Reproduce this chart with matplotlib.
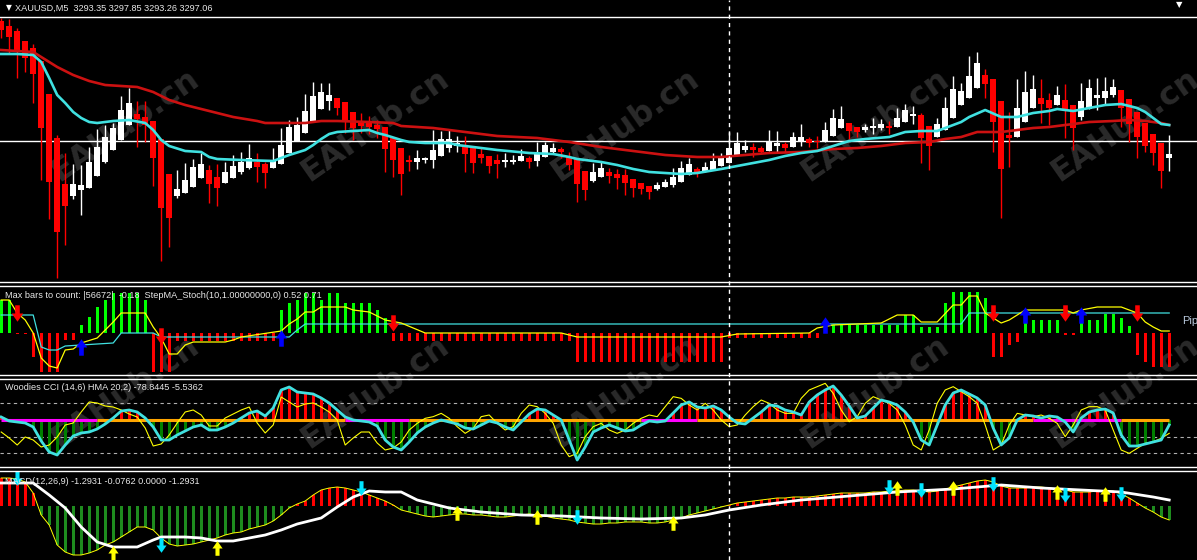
import matplotlib
matplotlib.use('Agg')
import matplotlib.pyplot as plt
from matplotlib.lines import Line2D
from matplotlib.path import Path

W, H = 1197, 560

# ---------------- main window: XAUUSD M5 ----------------
opens = [3312.9, 3312.4, 3311.9, 3310.9, 3310.2, 3308.9, 3305.6, 3301.2, 3296.6, 3295.4,
         3296.0, 3296.2, 3297.4, 3298.8, 3300.0, 3301.0, 3302.5, 3303.6, 3303.3, 3302.9,
         3301.1, 3297.6, 3295.4, 3295.7, 3296.3, 3297.2, 3298.0, 3297.3, 3296.7, 3297.2,
         3297.8, 3298.2, 3298.8, 3298.6, 3298.2, 3298.6, 3299.7, 3300.9, 3301.7, 3302.8,
         3304.1, 3304.9, 3305.2, 3304.8, 3303.8, 3302.9, 3302.7, 3302.5, 3302.3, 3301.2,
         3300.2, 3299.0, 3298.8, 3299.0, 3299.0, 3299.4, 3300.2, 3300.4, 3300.4, 3300.2,
         3299.6, 3299.4, 3299.0, 3298.8, 3298.8, 3298.9, 3299.2, 3298.9, 3299.3, 3299.8,
         3300.1, 3299.3, 3299.1, 3297.9, 3296.9, 3297.3, 3297.8, 3297.6, 3297.5, 3297.1,
         3296.7, 3296.4, 3296.1, 3296.3, 3296.5, 3296.8, 3297.5, 3298.1, 3297.8, 3298.0,
         3298.4, 3298.7, 3299.5, 3300.0, 3300.3, 3300.2, 3299.9, 3300.4, 3300.6, 3300.3,
         3300.8, 3301.1, 3300.9, 3300.8, 3301.4, 3302.2, 3302.7, 3302.3, 3302.0, 3302.2,
         3302.2, 3302.4, 3302.3, 3302.8, 3303.4, 3303.5, 3302.4, 3301.3, 3302.0, 3303.2,
         3304.5, 3305.2, 3306.2, 3307.5, 3307.1, 3304.9, 3301.5, 3301.3, 3302.8, 3304.2,
         3305.2, 3305.0, 3304.5, 3305.0, 3304.5, 3303.3, 3304.1, 3305.2, 3305.2, 3305.5,
         3306.0, 3305.1, 3303.8, 3302.7, 3301.6, 3300.7, 3299.2]
highs = [3313.2, 3313.1, 3312.2, 3310.9, 3310.6, 3308.9, 3305.6, 3301.5, 3299.7, 3298.6,
         3298.5, 3300.3, 3302.1, 3302.5, 3302.7, 3305.4, 3306.2, 3304.9, 3304.9, 3302.9,
         3301.1, 3297.6, 3298.0, 3298.7, 3299.1, 3299.7, 3298.5, 3298.6, 3298.8, 3299.5,
         3299.8, 3300.6, 3299.7, 3298.8, 3300.2, 3302.2, 3303.0, 3303.3, 3305.6, 3306.8,
         3306.7, 3306.7, 3305.2, 3304.8, 3303.8, 3303.7, 3303.4, 3303.0, 3302.3, 3301.2,
         3300.2, 3299.5, 3300.0, 3299.3, 3302.0, 3301.9, 3302.0, 3301.4, 3301.4, 3300.2,
         3300.2, 3299.4, 3299.6, 3299.7, 3299.5, 3300.1, 3299.4, 3300.8, 3300.8, 3300.7,
         3300.3, 3299.8, 3299.1, 3297.9, 3298.7, 3298.8, 3298.2, 3298.1, 3298.1, 3297.1,
         3296.7, 3296.4, 3296.8, 3297.1, 3298.2, 3298.9, 3299.2, 3298.3, 3298.8, 3299.7,
         3299.7, 3301.8, 3301.8, 3301.0, 3300.7, 3300.4, 3302.0, 3301.9, 3300.8, 3301.8,
         3302.6, 3301.3, 3301.4, 3302.8, 3304.1, 3304.4, 3302.7, 3302.3, 3302.6, 3303.2,
         3303.1, 3302.9, 3304.2, 3304.6, 3304.4, 3303.7, 3302.4, 3303.2, 3305.3, 3307.4,
         3306.7, 3309.4, 3309.8, 3308.1, 3307.1, 3304.9, 3303.8, 3307.1, 3307.9, 3307.5,
         3307.1, 3305.7, 3306.4, 3306.6, 3304.5, 3306.7, 3307.1, 3307.2, 3307.3, 3307.1,
         3306.0, 3305.1, 3303.8, 3302.7, 3301.6, 3300.7, 3301.5]
lows = [3311.2, 3309.7, 3307.2, 3307.8, 3304.7, 3297.0, 3293.1, 3287.2, 3290.5, 3295.1,
        3293.5, 3296.2, 3297.4, 3298.7, 3300.0, 3301.0, 3302.5, 3300.3, 3300.8, 3296.4,
        3288.9, 3290.3, 3295.2, 3295.7, 3296.3, 3297.2, 3294.7, 3294.4, 3296.7, 3297.2,
        3297.6, 3298.1, 3296.8, 3296.2, 3298.2, 3298.6, 3299.7, 3300.9, 3301.7, 3302.8,
        3304.1, 3304.0, 3303.5, 3301.7, 3301.0, 3301.7, 3301.6, 3301.2, 3297.8, 3297.3,
        3295.5, 3297.9, 3298.1, 3298.7, 3298.2, 3299.4, 3299.8, 3299.8, 3297.8, 3297.7,
        3298.7, 3297.7, 3297.2, 3298.3, 3298.6, 3298.9, 3298.2, 3298.4, 3299.3, 3299.7,
        3299.2, 3298.0, 3294.8, 3295.0, 3296.8, 3297.3, 3296.7, 3296.1, 3295.5, 3295.3,
        3295.6, 3295.1, 3296.0, 3296.3, 3296.3, 3296.8, 3297.5, 3297.3, 3297.8, 3298.0,
        3298.4, 3298.7, 3299.5, 3299.8, 3299.3, 3299.7, 3299.9, 3299.8, 3299.8, 3300.3,
        3300.4, 3300.3, 3300.2, 3300.8, 3301.4, 3302.2, 3301.1, 3301.3, 3301.8, 3301.6,
        3302.0, 3301.6, 3302.3, 3302.8, 3302.6, 3298.7, 3298.0, 3301.3, 3302.0, 3303.2,
        3304.5, 3305.2, 3306.2, 3305.2, 3299.8, 3293.2, 3298.3, 3301.3, 3302.8, 3304.2,
        3302.7, 3302.5, 3304.5, 3301.2, 3300.0, 3303.0, 3304.1, 3304.0, 3304.5, 3305.3,
        3302.3, 3300.8, 3299.2, 3299.8, 3298.5, 3296.2, 3297.9]
closes = [3312.0, 3311.3, 3309.8, 3309.2, 3307.6, 3302.2, 3296.8, 3291.8, 3294.4, 3296.6,
          3296.5, 3298.8, 3300.3, 3301.3, 3302.2, 3304.0, 3304.7, 3303.1, 3302.5, 3299.2,
          3294.2, 3293.2, 3296.1, 3297.0, 3298.3, 3298.6, 3296.6, 3296.2, 3297.8, 3298.4,
          3298.8, 3299.2, 3298.3, 3297.7, 3298.9, 3300.5, 3302.3, 3302.5, 3303.9, 3305.4,
          3305.8, 3305.5, 3304.2, 3302.9, 3302.2, 3302.4, 3302.3, 3302.1, 3300.1, 3299.0,
          3297.6, 3298.8, 3299.2, 3299.2, 3300.0, 3301.1, 3301.1, 3300.7, 3299.6, 3298.7,
          3299.2, 3298.4, 3298.6, 3299.0, 3299.0, 3299.4, 3298.8, 3299.6, 3300.5, 3300.2,
          3299.8, 3298.5, 3296.6, 3296.0, 3297.8, 3298.2, 3297.4, 3297.2, 3296.7, 3296.2,
          3296.1, 3295.8, 3296.5, 3296.8, 3297.3, 3298.2, 3298.6, 3297.8, 3298.3, 3298.9,
          3299.2, 3300.2, 3300.7, 3300.4, 3300.0, 3299.8, 3300.8, 3300.7, 3300.2, 3301.3,
          3301.3, 3300.7, 3300.85, 3302.0, 3303.2, 3303.1, 3301.9, 3301.8, 3302.3, 3302.4,
          3302.6, 3302.2, 3303.2, 3304.0, 3303.6, 3301.2, 3300.4, 3302.6, 3304.2, 3306.1,
          3305.9, 3307.4, 3308.7, 3306.6, 3302.8, 3298.1, 3301.2, 3304.2, 3305.8, 3306.1,
          3304.6, 3304.2, 3305.5, 3304.1, 3302.2, 3304.9, 3306.2, 3305.5, 3305.9, 3306.3,
          3304.2, 3302.6, 3301.3, 3300.4, 3299.7, 3297.9, 3299.6]

fast_ma_bars = [0, 2, 4, 5, 6, 7, 8, 9, 10, 11, 12, 14, 16, 18, 19, 20, 21, 23, 25, 26,
                27, 30, 34, 35, 36, 38, 39, 40, 41, 42, 46, 47, 48, 50, 51, 53, 56, 57, 60, 62,
                66, 69, 71, 72, 75, 77, 79, 81, 85, 87, 90, 92, 94, 96, 98, 100, 102, 104, 106, 108,
                111, 113, 115, 117, 119, 120, 121, 123, 125, 127, 129, 131, 132, 134, 136, 138, 140, 142, 143, 144,
                145, 146]
fast_ma = [3309.6, 3309.6, 3309.5, 3308.8, 3307.2, 3305.5, 3304.7, 3303.8, 3303.2, 3302.8,
           3302.7, 3302.9, 3303.0, 3302.7, 3302.0, 3301.0, 3300.4, 3299.9, 3299.8, 3299.3,
           3299.1, 3299.0, 3298.9, 3299.2, 3299.5, 3300.0, 3300.5, 3301.1, 3301.6, 3301.8,
           3302.0, 3301.7, 3301.5, 3301.0, 3300.8, 3300.7, 3300.7, 3300.5, 3300.2, 3300.0,
           3299.7, 3299.6, 3299.3, 3299.1, 3298.8, 3298.5, 3298.1, 3297.8, 3297.6, 3297.7,
           3298.1, 3298.4, 3298.7, 3299.0, 3299.4, 3299.7, 3299.9, 3300.4, 3300.9, 3301.1,
           3301.3, 3301.8, 3301.9, 3301.9, 3302.5, 3302.8, 3303.3, 3304.0, 3303.3, 3303.3,
           3303.7, 3303.9, 3304.1, 3303.9, 3304.2, 3304.5, 3304.6, 3304.2, 3303.8, 3303.2,
           3302.6, 3302.5]
slow_ma_bars = [0, 4, 5, 7, 9, 11, 13, 15, 17, 19, 21, 23, 25, 27, 29, 32, 33, 38, 40, 42,
                46, 49, 50, 54, 58, 62, 67, 71, 75, 79, 83, 87, 90, 93, 96, 100, 104, 107, 110, 113,
                116, 118, 120, 122, 125, 127, 129, 131, 133, 136, 139, 141, 143, 145, 146]
slow_ma = [3310.0, 3309.8, 3309.3, 3308.3, 3307.5, 3306.9, 3306.5, 3306.4, 3306.3, 3305.8,
           3305.0, 3304.5, 3304.1, 3303.7, 3303.3, 3302.9, 3302.7, 3302.7, 3302.9, 3302.9,
           3302.8, 3302.7, 3302.4, 3302.2, 3301.8, 3301.4, 3301.2, 3300.8, 3300.3, 3299.9,
           3299.5, 3299.3, 3299.3, 3299.5, 3299.7, 3299.8, 3300.1, 3300.2, 3300.4, 3300.7,
           3300.8, 3301.1, 3301.3, 3301.8, 3301.8, 3302.0, 3302.2, 3302.3, 3302.5, 3302.8,
           3302.9, 3303.0, 3302.9, 3302.7, 3302.5]
hline_price = 3300.9
cursor_bar = 91

# ---------------- StepMA_Stoch window ----------------
stoch_hist = [33, 33, -1, -1, -24, -39, -39, -39, -7, -7,
              8, 16, 26, 33, 40, 40, 40, 40, 33, -39,
              -39, -39, -8, -8, -8, -8, -8, -8, -8, -8,
              -8, -8, -8, -8, -8, 23, 30, 33, 40, 40,
              33, 40, 40, 30, 30, 30, 30, 23, 15, -8,
              -8, -8, -8, -8, -8, -8, -8, -8, -8, -8,
              -8, -8, -8, -8, -8, -8, -8, -8, -8, -8,
              -8, -8, -29, -29, -29, -29, -29, -29, -29, -29,
              -29, -29, -29, -29, -29, -29, -29, -29, -29, -29,
              -29, -5, -5, -5, -5, -5, -5, -5, -5, -5,
              -5, -5, -5, 8, 8, 8, 8, 8, 8, 8,
              8, 8, 8, 18, 18, 6, 6, 6, 30, 41,
              41, 41, 41, 35, -24, -24, -12, -9, 13, 13,
              13, 13, 13, -2, -2, 13, 13, 13, 19, 19,
              15, 7, -22, -29, -34, -34, -34]
stoch_sig_bars = [0, 4, 5, 6, 7, 8, 10, 14, 15, 19, 20, 34, 36, 37, 38, 120, 121, 146]
stoch_sig = [18, 18, -14, -17, -17, -13, -12, -10, 0, 0, -4, -4, -4, 3, 9, 9, 20, 20]
stoch_main_bars = [0, 1, 2, 3, 4, 5, 6, 7, 8, 9, 10, 12, 13, 14, 15, 18, 19, 20, 21, 22,
                   23, 24, 28, 29, 30, 35, 36, 37, 38, 39, 40, 43, 44, 46, 48, 50, 53, 70, 72, 90,
                   92, 101, 102, 104, 110, 112, 114, 115, 117, 119, 120, 121, 122, 123, 125, 126, 128, 133, 134, 135,
                   137, 140, 142, 143, 144, 145, 146]
stoch_main = [33, 33, 20, 13, 0, -25, -33, -35, -17, -16, -10, -5, 3, 11, 20, 20, 6, -5, -21, -21,
              -12, -9, -9, -7, -4, 2, 9, 14, 21, 21, 26, 26, 23, 21, 13, 10, 0, 0, -4, -4,
              -1, 0, 5, 8, 10, 18, 18, 11, 11, 28, 28, 37, 37, 20, 10, 13, 23, 23, 20, 23,
              26, 26, 20, 11, 6, 2, 2]
stoch_sell = [(2, 20), (20, -3), (49, 10), (124, 20), (133, 20), (142, 20)]
stoch_buy = [(10, -14), (35, -5), (103, 8), (128, 18), (135, 18)]

# ---------------- Woodies CCI window ----------------
cci = [18, -6, -12, -18, -42, -126, -192, -210, -150, -96,
       -78, -72, -54, -24, 12, 54, 60, 48, 12, -42,
       -120, -120, -90, -66, -42, -30, -60, -60, -42, -18,
       12, 42, 54, 24, 72, 180, 198, 168, 162, 156,
       132, 102, 60, 18, 0, -6, -12, -36, -120, -162,
       -180, -132, -78, -42, -18, 0, -12, -24, -48, -54,
       -30, -6, -18, -42, -60, -12, 36, 66, 60, 30,
       0, -120, -240, -162, -72, -48, -30, -48, -66, -60,
       -30, -6, -12, -6, 42, 90, 108, 78, 72, 84,
       60, 18, -18, -24, 12, 48, 90, 84, 60, 48,
       30, 108, 150, 180, 204, 150, 84, 12, 24, 72,
       120, 108, 90, 48, -12, -120, -150, -30, 90, 162,
       180, 156, 132, 90, -48, -150, -108, 0, 30, 24,
       12, 24, 18, -12, -72, 12, 48, 60, 66, 42,
       -90, -156, -156, -144, -132, -120, -30]
cci_turbo = [-72, -108, -150, -102, -120, -162, -150, -102, -30, -18,
             48, 108, 102, 84, 78, 60, 36, 18, -48, -156,
             -144, -90, -18, 48, 60, 30, -36, -36, 12, 36,
             60, 78, -18, -78, -30, 138, 108, 78, 96, 102,
             78, 48, 0, -150, -108, -72, -72, -138, -180, -168,
             -132, -60, -20, 10, 20, 40, 10, -40, -80, -50,
             20, 30, -20, -60, -40, 40, 90, 80, 40, -20,
             -150, -220, -200, -100, -40, -20, -60, -80, -60, -20,
             10, 30, 20, 80, 140, 130, 90, 60, 100, 60,
             0, -40, -30, 30, 80, 120, 100, 60, 40, 40,
             130, 180, 200, 220, 160, 60, -10, 20, 100, 140,
             120, 100, 60, -30, -150, -180, -60, 100, 180, 200,
             170, 140, 100, -30, -180, -150, -30, 40, 30, 20,
             30, 10, -20, -100, -30, 60, 80, 80, 60, -60,
             -180, -200, -170, -140, -130, -110, -80]
cci_trend_breaks = [0, 12, 43, 51, 80, 87, 129, 140, 146]
cci_trend_colors = ['#FF00FF', '#FFA500', '#FF00FF', '#FFA500', '#FF00FF', '#FFA500', '#FF00FF', '#FFA500']
cci_levels = [100, -100, -200]

# ---------------- MACD window ----------------
macd = [2.8, 2.8, 2.7, 2.4, 1.3, -0.9, -1.9, -3.9, -4.6, -4.9,
        -4.9, -4.7, -4.4, -3.9, -3.6, -3.1, -2.6, -2.1, -2.1, -2.4,
        -3.2, -3.8, -4.0, -3.9, -3.8, -3.6, -3.4, -3.2, -2.9, -2.7,
        -2.6, -2.3, -2.1, -1.9, -1.5, -0.9, -0.2, 0.2, 0.5, 1.1,
        1.6, 1.8, 1.9, 1.8, 1.6, 1.4, 1.1, 0.8, 0.5, 0.1,
        -0.4, -0.6, -0.8, -1.0, -1.1, -1.0, -0.9, -0.8, -0.8, -0.9,
        -0.9, -1.0, -1.1, -1.1, -1.0, -0.9, -0.8, -0.9, -1.0, -1.2,
        -1.3, -1.4, -1.6, -1.7, -1.8, -1.8, -1.7, -1.7, -1.6, -1.6,
        -1.6, -1.7, -1.7, -1.6, -1.4, -1.2, -0.9, -0.7, -0.5, -0.3,
        -0.1, 0.1, 0.3, 0.4, 0.5, 0.6, 0.7, 0.8, 0.8, 0.9,
        0.9, 0.9, 1.0, 1.1, 1.2, 1.3, 1.3, 1.3, 1.3, 1.4,
        1.4, 1.5, 1.5, 1.6, 1.6, 1.5, 1.4, 1.5, 1.7, 1.9,
        2.1, 2.3, 2.5, 2.6, 2.4, 2.0, 1.8, 1.8, 1.8, 1.9,
        1.9, 1.8, 1.7, 1.6, 1.4, 1.4, 1.4, 1.5, 1.5, 1.5,
        1.2, 0.8, 0.3, -0.2, -0.6, -1.1, -1.4]
macd_sig_bars = [0, 4, 6, 8, 10, 12, 14, 17, 19, 20, 23, 25, 27, 29, 31, 33, 35, 37, 40, 42,
                 44, 46, 48, 50, 52, 56, 60, 65, 70, 75, 80, 85, 88, 91, 95, 100, 106, 112, 119, 122,
                 125, 130, 135, 140, 144, 146]
macd_sig = [2.3, 2.3, 1.1, -0.2, -2.1, -3.6, -4.1, -4.1, -3.4, -3.1,
            -3.1, -3.2, -3.5, -3.5, -3.2, -2.9, -2.4, -1.8, -1.2, -0.1,
            0.9, 1.5, 1.4, 1.4, 0.6, -0.2, -0.6, -0.9, -1.0, -1.2,
            -1.3, -1.2, -0.9, -0.4, 0.1, 0.6, 1.0, 1.4, 1.7, 1.9,
            2.1, 1.8, 1.6, 1.4, 0.9, 0.6]
macd_down = [(2, 2.8), (20, -3.9), (45, 1.8), (72, -1.1), (111, 1.9), (115, 1.6), (124, 2.2), (133, 1.1), (140, 1.2)]
macd_up = [(14, -4.7), (27, -4.2), (57, -0.7), (67, -1.1), (84, -1.7), (112, 1.8), (119, 1.8), (132, 1.4), (138, 1.2)]

# ---------------------------------------------------------
plt.rcParams['font.family'] = ['Liberation Sans', 'DejaVu Sans']
fig = plt.figure(figsize=(W / 100, H / 100), dpi=100, facecolor='black')

X0 = -0.15
X1 = X0 + W / 8.0


def panel(top, bottom, ylo, yhi):
    ax = fig.add_axes([0, 1 - bottom / H, 1, (bottom - top) / H])
    ax.set_facecolor('none')
    ax.set_xlim(X0, X1)
    ax.set_ylim(ylo, yhi)
    ax.axis('off')
    return ax


def hline_px(y):
    fig.add_artist(Line2D([0, 1], [1 - y / H] * 2, color='white', lw=1, transform=fig.transFigure))


up_arrow = Path([(-0.28, -1), (0.28, -1), (0.28, 0), (0.7, 0), (0, 1), (-0.7, 0), (-0.28, 0), (-0.28, -1)],
                [Path.MOVETO] + [Path.LINETO] * 6 + [Path.CLOSEPOLY])
down_arrow = Path([(x, -y) for x, y in up_arrow.vertices], up_arrow.codes)

# watermarks (behind everything)
for cy in (125, 392):
    for cx in (125, 375, 625, 875, 1125):
        fig.text(cx / W, 1 - cy / H, 'EAHub.cn', family='DejaVu Sans', fontsize=23, fontweight='bold',
                 color='#2a2a2a', rotation=35, ha='center', va='center', zorder=-5)

# main candles
ax = panel(17, 282, 3315 - 28.2, 3315 - 1.7)
bars = range(len(opens))
for i in bars:
    o, hi, lo, c = opens[i], highs[i], lows[i], closes[i]
    col = 'white' if c > o else '#FF0000'
    ax.vlines(i, lo, hi, color=col, lw=1, zorder=2)
    ax.bar(i, max(abs(c - o), 0.1), bottom=min(o, c), width=0.68, color=col, lw=0, zorder=3)
ax.plot(slow_ma_bars, slow_ma, color='#CC1111', lw=1.9, zorder=4)
ax.plot(fast_ma_bars, fast_ma, color='#40E0E0', lw=1.9, zorder=4)
ax.axhline(hline_price, color='white', lw=1, zorder=1)

# StepMA_Stoch
ax1 = panel(286, 375, -42, 47)
ax1.bar(list(range(len(stoch_hist))), stoch_hist, width=0.4, lw=0,
        color=['#00FF00' if v > 0 else '#FF0000' for v in stoch_hist])
ax1.plot(stoch_sig_bars, stoch_sig, color='#40E0E0', lw=0.9)
ax1.plot(stoch_main_bars, stoch_main, color='#FFFF00', lw=0.9)
ax1.scatter([p[0] for p in stoch_sell], [p[1] for p in stoch_sell], marker=down_arrow, s=140,
            color='#FF0000', lw=0, zorder=5)
ax1.scatter([p[0] for p in stoch_buy], [p[1] for p in stoch_buy], marker=up_arrow, s=140,
            color='#0000FF', lw=0, zorder=5)

# Woodies CCI
ax2 = panel(379, 467, (420 - 467) * 6, (420 - 379) * 6)
for lv in cci_levels:
    ax2.axhline(lv, color='#B0B0B0', lw=0.8, ls=(0, (3, 3)), zorder=1)
ax2.bar(list(range(len(cci))), cci, width=0.4, lw=0,
        color=['#FF0000' if v > 0 else '#008000' for v in cci], zorder=2)
for k in range(len(cci_trend_colors)):
    ax2.plot([cci_trend_breaks[k], cci_trend_breaks[k + 1]], [0, 0], color=cci_trend_colors[k],
             lw=2.2, solid_capstyle='butt', zorder=3)
ax2.plot(range(len(cci_turbo)), cci_turbo, color='#FFFF00', lw=0.8, zorder=4)
ax2.plot(range(len(cci)), cci, color='#40E0E0', lw=2.0, zorder=5)

# MACD
ax3 = panel(471, 560, -5.4, 3.5)
ax3.bar(list(range(len(macd))), macd, width=0.4, lw=0,
        color=['#FF0000' if v > 0 else '#1E8C1E' for v in macd], zorder=2)
ax3.plot(range(len(macd)), macd, color='#FFFF00', lw=0.7, zorder=3)
ax3.plot(macd_sig_bars, macd_sig, color='white', lw=2.0, zorder=4)
ax3.scatter([p[0] for p in macd_down], [p[1] for p in macd_down], marker=down_arrow, s=110,
            color='#00E5FF', lw=0, zorder=5)
ax3.scatter([p[0] for p in macd_up], [p[1] for p in macd_up], marker=up_arrow, s=110,
            color='#FFFF00', lw=0, zorder=5)

# window borders and cursor line
for y in (17, 282, 286, 375, 379, 467, 471):
    hline_px(y)
cx = (cursor_bar - X0) / (X1 - X0)
fig.add_artist(Line2D([cx, cx], [0, 1], color='white', lw=1, ls=(0, (3, 3)), transform=fig.transFigure))

# texts
txt = dict(color='#E8E8E8', fontsize=6.6, va='center', ha='left')
fig.text(6 / W, 1 - 8 / H, '\u25BC', family='DejaVu Sans', color='white', fontsize=5.5, va='center')
fig.text(15 / W, 1 - 8 / H, 'XAUUSD,M5  3293.35 3297.85 3293.26 3297.06', **txt)
fig.text(1176 / W, 1 - 5 / H, '\u25BC', family='DejaVu Sans', color='white', fontsize=6, va='center')
fig.text(5 / W, 1 - 296 / H, 'Max bars to count: |56672|  -0.18  StepMA_Stoch(10,1.00000000,0) 0.52 0.71', **txt)
fig.text(1182 / W, 1 - 321 / H, 'Pip', color='#B8C8DC', fontsize=8, va='center', ha='left')
fig.text(5 / W, 1 - 388 / H, 'Woodies CCI (14,6) HMA 20,2) -78.8445 -5.5362', **txt)
fig.text(5 / W, 1 - 481 / H, 'MACD(12,26,9) -1.2931 -0.0762 0.0000 -1.2931', **txt)

fig.savefig('out.png', dpi=100, facecolor='black')
